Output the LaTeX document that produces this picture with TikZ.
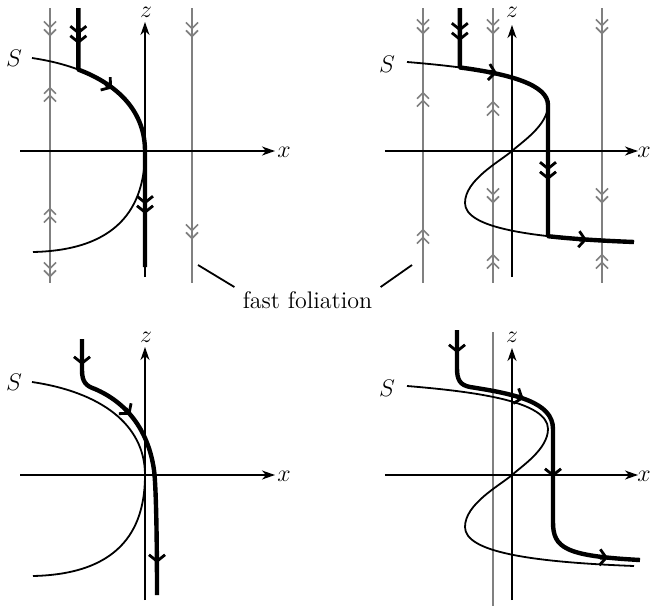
\documentclass[tikz,border=0pt]{standalone}
\usetikzlibrary{arrows.meta}
\tikzset{
  gchev/.tip={Straight Barb[length=3pt,width=6pt,line width=0.8pt]Straight Barb[length=3pt,width=6pt,line width=0.8pt]},
  tchevd/.tip={Straight Barb[length=3.2pt,width=8pt,line width=1.4pt]Straight Barb[length=3.2pt,width=8pt,line width=1.4pt]},
  tchevs/.tip={Straight Barb[length=3.2pt,width=8pt,line width=1.4pt]},
  axtip/.tip={Stealth[length=6.5pt,width=4.5pt,inset=2pt]}
}
\newcommand\fdn[2]{\draw[fol,-{gchev}] (#1,#2-12) -- (#1,#2);}
\newcommand\fupp[2]{\draw[fol,-{gchev}] (#1,#2+12) -- (#1,#2);}
\begin{document}
\begin{tikzpicture}[x=0.5pt,y=-0.5pt,
  every node/.style={font=\fontsize{12}{14}\selectfont, inner sep=0pt},
  axis/.style={line width=0.8pt,-{axtip}},
  scurve/.style={line width=0.9pt},
  traj/.style={line width=2.2pt,line join=round},
  fol/.style={line width=0.85pt,draw=gray},
  lead/.style={line width=0.9pt}]
\useasboundingbox (0,0) rectangle (650,606);

% ---------- top left ----------
\draw[fol] (50,8) -- (50,283);
\draw[fol] (192,8) -- (192,283);
\fdn{50}{36.5} \fupp{50}{86.5} \fupp{50}{207.5} \fdn{50}{277.5}
\fdn{192}{37.5} \fdn{192}{239.5}
\draw[axis] (20,151) -- (275,151);
\draw[axis] (145,277) -- (145,22);
\node (xtl) at (284,152) {$x$};
\node (ztl) at (146,12) {$z$};
\node (stl) at (14,58) {$S$};
\draw[scurve] (32,58) .. controls (100,68) and (145,100) .. (145,151)
  .. controls (145,200) and (125,250) .. (33,252);
\draw[traj] (78.34,8) -- (78.34,69.58) .. controls (119.69,85.19) and (145,112.75) .. (145,151) -- (145,267);
\draw[traj,-{tchevd}] (78.34,28) -- (78.34,44);
\draw[traj,-{tchevs}] (106,84) -- (112,88.5);
\draw[traj,-{tchevd}] (145,197) -- (145,214);

% ---------- top right ----------
\draw[fol] (423,8) -- (423,283);
\draw[fol] (493,8) -- (493,283);
\draw[fol] (602,8) -- (602,283);
\fdn{423}{34.5} \fupp{423}{91.5} \fupp{423}{228.5}
\fdn{493}{34.5} \fupp{493}{100.5} \fdn{493}{203.5} \fupp{493}{253.5}
\fdn{602}{34.5} \fdn{602}{203.5} \fupp{602}{253.5}
\draw[axis] (385,151) -- (638,151);
\draw[axis] (512,277) -- (512,25);
\node (xtr) at (644,152) {$x$};
\node (ztr) at (512,12) {$z$};
\node (str) at (387,64) {$S$};
\draw[scurve] (407,62) .. controls (480,68) and (548,78) .. (548,105)
  .. controls (548,125) and (522,142) .. (512,151)
  .. controls (499,162) and (465,180) .. (465,203)
  .. controls (465,228) and (530,238) .. (634,242);
\draw[traj] (459.83,8) -- (459.83,67.45) .. controls (509.75,74.06) and (548,84.75) .. (548,105)
  -- (548,236.19) .. controls (572.38,238.94) and (601.24,240.74) .. (634,242);
\draw[traj,-{tchevd}] (459.83,25) -- (459.83,41);
\draw[traj,-{tchevs}] (489,72) -- (497,73);
\draw[traj,-{tchevd}] (548,164) -- (548,180);
\draw[traj,-{tchevs}] (579,239.2) -- (587,239.8);

% ---------- fast foliation ----------
\node[inner xsep=4pt,inner ysep=2pt] (ff) at (307.5,300) {fast foliation};
\coordinate (fl) at (198,265);
\coordinate (fr) at (412,265);
\draw[lead] (ff.north west) -- (fl);
\draw[lead] (ff.north east) -- (fr);

% ---------- bottom left ----------
\draw[axis] (20,475) -- (275,475);
\draw[axis] (145,600) -- (145,347);
\node (xbl) at (284,476) {$x$};
\node (zbl) at (146,337) {$z$};
\node (sbl) at (14,382) {$S$};
\draw[scurve] (32,382) .. controls (100,392) and (145,424) .. (145,475)
  .. controls (145,524) and (125,574) .. (33,576);
\draw[traj] (82,339) -- (82,370) .. controls (82,382) and (86,386) .. (95,389)
  .. controls (125,402) and (148,428) .. (154,470)
  .. controls (155.5,480.5) and (157,520) .. (157,595);
\draw[traj,-{tchevs}] (82,355) -- (82,365);
\draw[traj,-{tchevs}] (125.3,408.85) -- (130.3,414.7);
\draw[traj,-{tchevs}] (157,550) -- (157,563);

% ---------- bottom right ----------
\draw[fol] (493,332) -- (493,606);
\draw[axis] (385,475) -- (638,475);
\draw[axis] (512,600) -- (512,348);
\node (xbr) at (644,476) {$x$};
\node (zbr) at (512,337) {$z$};
\node (sbr) at (387,388) {$S$};
\draw[scurve] (407,386) .. controls (480,392) and (548,402) .. (548,429)
  .. controls (548,449) and (522,466) .. (512,475)
  .. controls (499,486) and (465,504) .. (465,527)
  .. controls (465,552) and (530,562) .. (634,566);
\draw[traj] (457,330) -- (457,368) .. controls (457,380) and (460,385) .. (470,387)
  .. controls (515,394) and (553,402) .. (553,429) -- (553,522)
  .. controls (553,548) and (565,556) .. (640,560);
\draw[traj,-{tchevs}] (457,343) -- (457,353);
\draw[traj,-{tchevs}] (517.7,396.56) -- (523.7,398.7);
\draw[traj,-{tchevs}] (553,465) -- (553,477);
\draw[traj,-{tchevs}] (600,557.3) -- (608,557.8);
\end{tikzpicture}
\end{document}
